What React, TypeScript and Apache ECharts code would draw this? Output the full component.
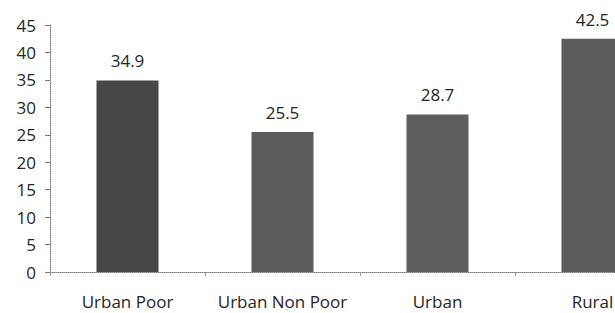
import React, { useEffect, useRef } from "react";
import * as echarts from "echarts";

const categories = ["Urban Poor", "Urban Non Poor", "Urban", "Rural"];
const values = [34.9, 25.5, 28.7, 42.5];
const barColors = ["#474747", "#5c5c5c", "#5e5e5e", "#5c5c5c"];
const yTicks = { min: 0, max: 45, interval: 5 };

export default function App() {
  const ref = useRef<HTMLDivElement>(null);
  useEffect(() => {
    if (!ref.current) return;
    const chart = echarts.init(ref.current, null, { renderer: "svg" });
    const font = "'Open Sans', 'Noto Sans', sans-serif";
    chart.setOption({
      animation: false,
      backgroundColor: "#ffffff",
      grid: { left: 50, top: 25, bottom: 41, width: 620, outerBoundsMode: "none", containLabel: false },
      xAxis: {
        type: "category",
        data: categories,
        axisLine: { lineStyle: { color: "#777", type: "dotted", width: 1 } },
        axisTick: { show: true, length: 4, lineStyle: { color: "#999" } },
        axisLabel: {
          color: "#262626",
          fontSize: 17,
          fontFamily: font,
          margin: 21,
          interval: 0,
          hideOverlap: false,
        },
      },
      yAxis: {
        type: "value",
        min: yTicks.min,
        max: yTicks.max,
        interval: yTicks.interval,
        splitLine: { show: false },
        axisLine: { show: true, lineStyle: { color: "#777", type: "dotted", width: 1 } },
        axisTick: { show: true, length: 5, lineStyle: { color: "#777" } },
        axisLabel: { color: "#262626", fontSize: 17, fontFamily: font, margin: 14 },
      },
      series: [
        {
          type: "bar",
          barWidth: 62,
          data: values.map((v, i) => ({ value: v, itemStyle: { color: barColors[i] } })),
          label: {
            show: true,
            position: "top",
            distance: 11,
            color: "#262626",
            fontSize: 17,
            fontFamily: font,
          },
        },
      ],
    });
    return () => chart.dispose();
  }, []);
  return (
    <div
      ref={ref}
      style={{ position: "fixed", left: 0, top: 0, width: 615, height: 313 }}
    />
  );
}
